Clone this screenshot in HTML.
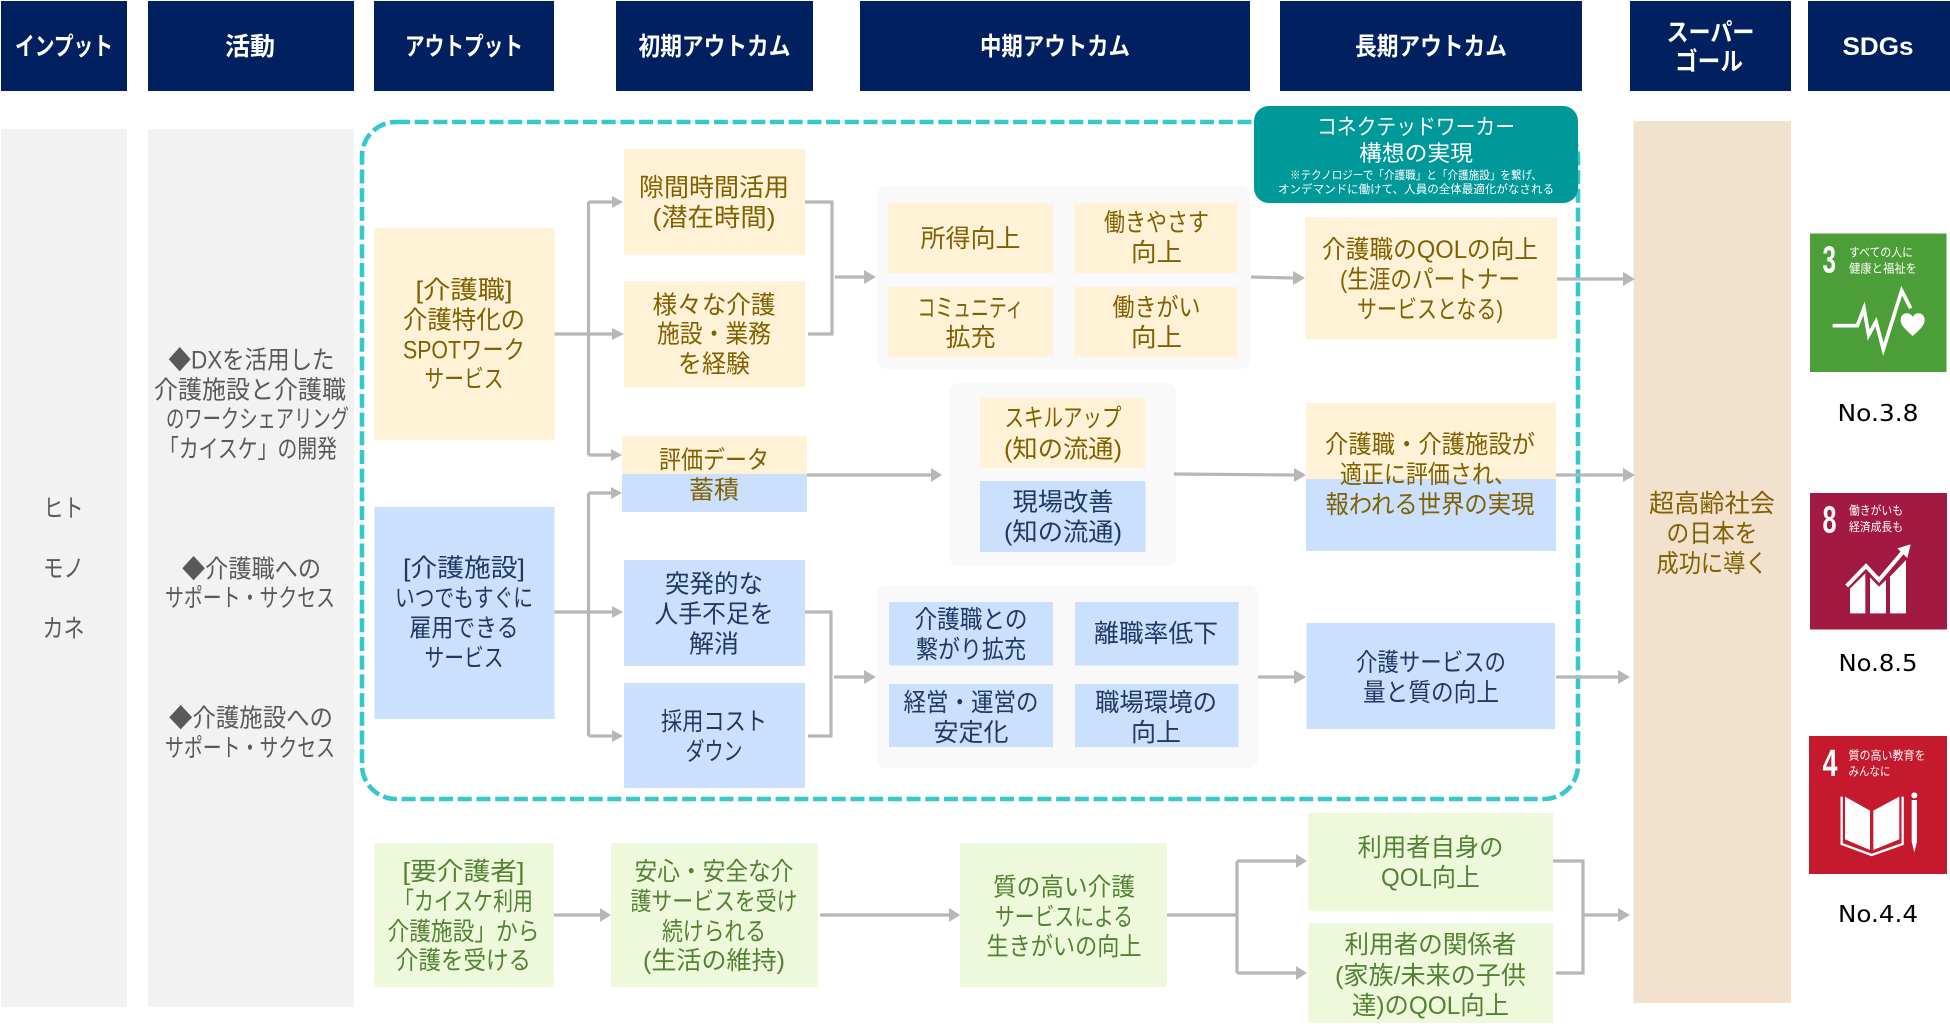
<!DOCTYPE html>
<html lang="ja">
<head>
<meta charset="utf-8">
<title>ロジックモデル</title>
<style>
html,body{margin:0;padding:0;background:#fff}
svg{display:block}
text{font-family:"Liberation Sans","Noto Sans CJK JP",sans-serif;text-anchor:middle;font-size:25px}
.h{fill:#fff;font-weight:700;font-size:25px}
.k{fill:#595959}
.y{fill:#806000;transform:translateY(-1px)}
.b{fill:#1f3864;transform:translateY(-1px)}
.g{fill:#548235;transform:translateY(-2px)}
.w{fill:#fff}
.s{fill:#fff;font-size:11.5px}
.n{fill:#000;font-family:"DejaVu Sans",sans-serif;font-size:23px}
.l{fill:#fff;font-weight:400;font-size:12px;text-anchor:start}
.num{fill:#fff;font-weight:700;font-size:38px;text-anchor:start}
.fy{fill:#fff2d6}
.fb{fill:#cbe0fd}
.fg{fill:#eef9dc}
.fh{fill:#002060}
.fc{fill:#f2f2f2}
.fp{fill:#f9f9f9}
.ln{fill:none;stroke:#b7b7b7;stroke-width:3.2}
.ah{fill:#b7b7b7}
</style>
</head>
<body>
<svg xmlns="http://www.w3.org/2000/svg" width="1950" height="1035" viewBox="0 0 1950 1035">
<rect width="1950" height="1035" fill="#fff"/>

<!-- headers -->
<rect class="fh" x="1" y="1" width="126" height="90"/>
<rect class="fh" x="148" y="1" width="206" height="90"/>
<rect class="fh" x="374" y="1" width="180" height="90"/>
<rect class="fh" x="616" y="1" width="197" height="90"/>
<rect class="fh" x="860" y="1" width="390" height="90"/>
<rect class="fh" x="1280" y="1" width="302" height="90"/>
<rect class="fh" x="1630" y="1" width="161" height="90"/>
<rect class="fh" x="1808" y="1" width="142" height="90"/>
<text class="h" x="64" y="55" textLength="98" lengthAdjust="spacingAndGlyphs">インプット</text>
<text class="h" x="250" y="55" textLength="50" lengthAdjust="spacingAndGlyphs">活動</text>
<text class="h" x="464" y="55" textLength="118" lengthAdjust="spacingAndGlyphs">アウトプット</text>
<text class="h" x="714.5" y="55" textLength="152" lengthAdjust="spacingAndGlyphs">初期アウトカム</text>
<text class="h" x="1055" y="55" textLength="150" lengthAdjust="spacingAndGlyphs">中期アウトカム</text>
<text class="h" x="1431" y="55" textLength="152" lengthAdjust="spacingAndGlyphs">長期アウトカム</text>
<text class="h" x="1710.5" y="41" textLength="88" lengthAdjust="spacingAndGlyphs">スーパー</text>
<text class="h" x="1709" y="70" textLength="68" lengthAdjust="spacingAndGlyphs">ゴール</text>
<text class="h" x="1878" y="55" textLength="71" lengthAdjust="spacingAndGlyphs">SDGs</text>

<!-- gray columns -->
<rect class="fc" x="1" y="129" width="126" height="878"/>
<rect class="fc" x="148" y="129" width="206" height="878"/>
<text class="k" x="63.5" y="517" textLength="40" lengthAdjust="spacingAndGlyphs">ヒト</text>
<text class="k" x="63.5" y="577" textLength="41" lengthAdjust="spacingAndGlyphs">モノ</text>
<text class="k" x="63.5" y="637" textLength="42" lengthAdjust="spacingAndGlyphs">カネ</text>
<text class="k" x="251.5" y="368.5" textLength="166" lengthAdjust="spacingAndGlyphs">◆DXを活用した</text>
<text class="k" x="250" y="398.5" textLength="192" lengthAdjust="spacingAndGlyphs">介護施設と介護職</text>
<text class="k" x="257.5" y="427.5" textLength="183" lengthAdjust="spacingAndGlyphs">のワークシェアリング</text>
<text class="k" x="248" y="457.5" textLength="178" lengthAdjust="spacingAndGlyphs">「カイスケ」の開発</text>
<text class="k" x="251.5" y="577.5" textLength="139" lengthAdjust="spacingAndGlyphs">◆介護職への</text>
<text class="k" x="250" y="606.5" textLength="170" lengthAdjust="spacingAndGlyphs">サポート・サクセス</text>
<text class="k" x="251" y="726.5" textLength="164" lengthAdjust="spacingAndGlyphs">◆介護施設への</text>
<text class="k" x="250" y="756.5" textLength="170" lengthAdjust="spacingAndGlyphs">サポート・サクセス</text>

<!-- goal column -->
<rect x="1633.5" y="121" width="157.5" height="882" fill="#f2e1cc"/>
<text class="y" x="1712" y="513" textLength="126" lengthAdjust="spacingAndGlyphs">超高齢社会</text>
<text class="y" x="1712" y="543" textLength="91" lengthAdjust="spacingAndGlyphs">の日本を</text>
<text class="y" x="1712" y="573" textLength="111" lengthAdjust="spacingAndGlyphs">成功に導く</text>

<!-- dashed frame -->
<rect x="362" y="122" width="1216" height="677" rx="34" ry="34" fill="none" stroke="#38c8c8" stroke-width="4.6" stroke-dasharray="14 4.7"/>

<!-- group panels -->
<rect class="fp" x="877" y="186" width="373" height="183" rx="9"/>
<rect class="fp" x="949.5" y="383" width="226.5" height="183" rx="9"/>
<rect class="fp" x="877" y="585" width="381" height="183" rx="9"/>

<!-- connectors -->
<path class="ln" d="M554 334H612M588.5 202V455M588.5 202H612M588.5 455H611"/>
<path class="ln" d="M554 612H612M588.5 493V736M588.5 493H611M588.5 736H612"/>
<path class="ln" d="M805 202H832V334H808"/>
<path class="ln" d="M835 277H865"/>
<path class="ln" d="M1251 277L1293 278"/>
<path class="ln" d="M1557 279H1624"/>
<path class="ln" d="M807 475H931"/>
<path class="ln" d="M1174 474L1294 475"/>
<path class="ln" d="M1556 475H1624"/>
<path class="ln" d="M805 612H831V736H808"/>
<path class="ln" d="M834 677H865"/>
<path class="ln" d="M1258 677H1294"/>
<path class="ln" d="M1556 677H1619"/>
<path class="ln" d="M554 915H600"/>
<path class="ln" d="M820 915H949"/>
<path class="ln" d="M1167 915H1237M1237 861V973M1237 861H1296M1237 973H1296"/>
<path class="ln" d="M1553 861H1583V973H1556"/>
<path class="ln" d="M1583 915H1619"/>
<g class="ah">
<polygon points="623,202 612,196 612,208"/>
<polygon points="624,334 612,328 612,340"/>
<polygon points="622,455 611,449 611,461"/>
<polygon points="622,493 611,487 611,499"/>
<polygon points="623,612 612,606 612,618"/>
<polygon points="623,736 612,730 612,742"/>
<polygon points="876,277 864,270 864,284"/>
<polygon points="1305,278 1293,271 1293,285"/>
<polygon points="942,475 931,468 931,482"/>
<polygon points="1306,475 1294,468 1294,482"/>
<polygon points="876,677 864,670 864,684"/>
<polygon points="1306,677 1294,670 1294,684"/>
<polygon points="1635,279 1623,272 1623,286"/>
<polygon points="1635,475 1623,468 1623,482"/>
<polygon points="1630,677 1618,670 1618,684"/>
<polygon points="1630,915 1618,908 1618,922"/>
<polygon points="611,915 600,908 600,922"/>
<polygon points="960,915 949,908 949,922"/>
<polygon points="1307,861 1296,854 1296,868"/>
<polygon points="1307,973 1296,966 1296,980"/>
</g>

<!-- output column -->
<rect class="fy" x="374.5" y="228" width="180" height="212"/>
<text class="y" x="464" y="299.5" textLength="97" lengthAdjust="spacingAndGlyphs">[介護職]</text>
<text class="y" x="464" y="329.5" textLength="122" lengthAdjust="spacingAndGlyphs">介護特化の</text>
<text class="y" x="464" y="359.5" textLength="122" lengthAdjust="spacingAndGlyphs">SPOTワーク</text>
<text class="y" x="464" y="388.5" textLength="79" lengthAdjust="spacingAndGlyphs">サービス</text>
<rect class="fb" x="374.5" y="507" width="180" height="212"/>
<text class="b" x="464" y="577.5" textLength="122" lengthAdjust="spacingAndGlyphs">[介護施設]</text>
<text class="b" x="464" y="607.5" textLength="138" lengthAdjust="spacingAndGlyphs">いつでもすぐに</text>
<text class="b" x="464" y="637.5" textLength="109" lengthAdjust="spacingAndGlyphs">雇用できる</text>
<text class="b" x="464" y="667.5" textLength="79" lengthAdjust="spacingAndGlyphs">サービス</text>

<!-- initial outcome -->
<rect class="fy" x="624" y="149" width="181" height="106"/>
<text class="y" x="714" y="197" textLength="150" lengthAdjust="spacingAndGlyphs">隙間時間活用</text>
<text class="y" x="714" y="227" textLength="123" lengthAdjust="spacingAndGlyphs">(潜在時間)</text>
<rect class="fy" x="624" y="281" width="181" height="106"/>
<text class="y" x="714" y="314.5" textLength="123" lengthAdjust="spacingAndGlyphs">様々な介護</text>
<text class="y" x="714" y="343.5" textLength="114" lengthAdjust="spacingAndGlyphs">施設・業務</text>
<text class="y" x="714" y="373.5" textLength="72" lengthAdjust="spacingAndGlyphs">を経験</text>
<rect class="fy" x="622" y="436" width="185" height="38"/>
<rect class="fb" x="622" y="474" width="185" height="38"/>
<text class="y" x="714" y="469.5" textLength="110" lengthAdjust="spacingAndGlyphs">評価データ</text>
<text class="y" x="714" y="499.5" textLength="50" lengthAdjust="spacingAndGlyphs">蓄積</text>
<rect class="fb" x="624" y="560" width="181" height="106"/>
<text class="b" x="714" y="593.5" textLength="98" lengthAdjust="spacingAndGlyphs">突発的な</text>
<text class="b" x="714" y="623.5" textLength="119" lengthAdjust="spacingAndGlyphs">人手不足を</text>
<text class="b" x="714" y="653.5" textLength="50" lengthAdjust="spacingAndGlyphs">解消</text>
<rect class="fb" x="624" y="683" width="181" height="105"/>
<text class="b" x="714" y="731" textLength="106" lengthAdjust="spacingAndGlyphs">採用コスト</text>
<text class="b" x="714" y="761" textLength="57" lengthAdjust="spacingAndGlyphs">ダウン</text>

<!-- mid outcome 1 -->
<rect class="fy" x="888" y="203" width="165.5" height="70"/>
<rect class="fy" x="1074" y="203" width="164" height="70"/>
<rect class="fy" x="888" y="287" width="165.5" height="70"/>
<rect class="fy" x="1074" y="287" width="164" height="70"/>
<text class="y" x="970.5" y="248" textLength="100" lengthAdjust="spacingAndGlyphs">所得向上</text>
<text class="y" x="1156.5" y="232" textLength="105" lengthAdjust="spacingAndGlyphs">働きやさす</text>
<text class="y" x="1156.5" y="262" textLength="51" lengthAdjust="spacingAndGlyphs">向上</text>
<text class="y" x="970.5" y="317.5" textLength="106" lengthAdjust="spacingAndGlyphs">コミュニティ</text>
<text class="y" x="970.5" y="347" textLength="50" lengthAdjust="spacingAndGlyphs">拡充</text>
<text class="y" x="1156.5" y="317" textLength="88" lengthAdjust="spacingAndGlyphs">働きがい</text>
<text class="y" x="1156.5" y="347" textLength="51" lengthAdjust="spacingAndGlyphs">向上</text>

<!-- mid outcome 2 -->
<rect class="fy" x="980" y="398" width="165.5" height="70"/>
<rect class="fb" x="980" y="481" width="165.5" height="71"/>
<text class="y" x="1063" y="427.5" textLength="117" lengthAdjust="spacingAndGlyphs">スキルアップ</text>
<text class="y" x="1063" y="458.5" textLength="118" lengthAdjust="spacingAndGlyphs">(知の流通)</text>
<text class="b" x="1063" y="511.5" textLength="101" lengthAdjust="spacingAndGlyphs">現場改善</text>
<text class="b" x="1063" y="541.5" textLength="118" lengthAdjust="spacingAndGlyphs">(知の流通)</text>

<!-- mid outcome 3 -->
<rect class="fb" x="889" y="602" width="164" height="63.5"/>
<rect class="fb" x="1075" y="602" width="163.5" height="63.5"/>
<rect class="fb" x="889" y="684" width="164" height="63"/>
<rect class="fb" x="1075" y="684" width="163.5" height="63"/>
<text class="b" x="971" y="629" textLength="113" lengthAdjust="spacingAndGlyphs">介護職との</text>
<text class="b" x="971" y="659" textLength="110" lengthAdjust="spacingAndGlyphs">繋がり拡充</text>
<text class="b" x="1156" y="643" textLength="124" lengthAdjust="spacingAndGlyphs">離職率低下</text>
<text class="b" x="971" y="712" textLength="135" lengthAdjust="spacingAndGlyphs">経営・運営の</text>
<text class="b" x="971" y="742" textLength="75" lengthAdjust="spacingAndGlyphs">安定化</text>
<text class="b" x="1156" y="712" textLength="122" lengthAdjust="spacingAndGlyphs">職場環境の</text>
<text class="b" x="1156" y="742" textLength="50" lengthAdjust="spacingAndGlyphs">向上</text>

<!-- long outcome -->
<rect class="fy" x="1305" y="217" width="252" height="122"/>
<text class="y" x="1430" y="259" textLength="216" lengthAdjust="spacingAndGlyphs">介護職のQOLの向上</text>
<text class="y" x="1430" y="289" textLength="180" lengthAdjust="spacingAndGlyphs">(生涯のパートナー</text>
<text class="y" x="1430" y="319" textLength="146" lengthAdjust="spacingAndGlyphs">サービスとなる)</text>
<rect class="fy" x="1306" y="403" width="250" height="76"/>
<rect class="fb" x="1306" y="479" width="250" height="72"/>
<text class="y" x="1430" y="454" textLength="210" lengthAdjust="spacingAndGlyphs">介護職・介護施設が</text>
<text class="y" x="1428" y="484" textLength="176" lengthAdjust="spacingAndGlyphs">適正に評価され、</text>
<text class="y" x="1430" y="514" textLength="209" lengthAdjust="spacingAndGlyphs">報われる世界の実現</text>
<rect class="fb" x="1306.5" y="623" width="248.5" height="106"/>
<text class="b" x="1431" y="672" textLength="150" lengthAdjust="spacingAndGlyphs">介護サービスの</text>
<text class="b" x="1431" y="702" textLength="136" lengthAdjust="spacingAndGlyphs">量と質の向上</text>

<!-- teal callout -->
<rect x="1254" y="106" width="324" height="97" rx="15" ry="15" fill="#009999"/>
<text class="w" style="font-size:22px" x="1416" y="134.5" textLength="198" lengthAdjust="spacingAndGlyphs">コネクテッドワーカー</text>
<text class="w" style="font-size:22px" x="1416" y="161" textLength="114" lengthAdjust="spacingAndGlyphs">構想の実現</text>
<text class="s" x="1416" y="179" textLength="252" lengthAdjust="spacingAndGlyphs">※テクノロジーで「介護職」と「介護施設」を繋げ、</text>
<text class="s" x="1416" y="193" textLength="276" lengthAdjust="spacingAndGlyphs">オンデマンドに働けて、人員の全体最適化がなされる</text>

<!-- bottom row -->
<rect class="fg" x="374" y="843" width="180" height="144"/>
<text class="g" x="463.5" y="882" textLength="122" lengthAdjust="spacingAndGlyphs">[要介護者]</text>
<text class="g" x="463.5" y="912" textLength="139" lengthAdjust="spacingAndGlyphs">「カイスケ利用</text>
<text class="g" x="463.5" y="942" textLength="152" lengthAdjust="spacingAndGlyphs">介護施設」から</text>
<text class="g" x="463.5" y="971" textLength="135" lengthAdjust="spacingAndGlyphs">介護を受ける</text>
<rect class="fg" x="611" y="843" width="207" height="144"/>
<text class="g" x="714" y="882" textLength="159" lengthAdjust="spacingAndGlyphs">安心・安全な介</text>
<text class="g" x="714" y="912" textLength="167" lengthAdjust="spacingAndGlyphs">護サービスを受け</text>
<text class="g" x="714" y="942" textLength="104" lengthAdjust="spacingAndGlyphs">続けられる</text>
<text class="g" x="714" y="971" textLength="142" lengthAdjust="spacingAndGlyphs">(生活の維持)</text>
<rect class="fg" x="960" y="843" width="207" height="144"/>
<text class="g" x="1064" y="897.5" textLength="142" lengthAdjust="spacingAndGlyphs">質の高い介護</text>
<text class="g" x="1064" y="927.5" textLength="138" lengthAdjust="spacingAndGlyphs">サービスによる</text>
<text class="g" x="1064" y="957" textLength="155" lengthAdjust="spacingAndGlyphs">生きがいの向上</text>
<rect class="fg" x="1308.5" y="813" width="244.5" height="98"/>
<text class="g" x="1430.5" y="858" textLength="146" lengthAdjust="spacingAndGlyphs">利用者自身の</text>
<text class="g" x="1430.5" y="888" textLength="99" lengthAdjust="spacingAndGlyphs">QOL向上</text>
<rect class="fg" x="1308.5" y="923" width="244.5" height="100"/>
<text class="g" x="1430.5" y="955" textLength="172" lengthAdjust="spacingAndGlyphs">利用者の関係者</text>
<text class="g" x="1430.5" y="986" textLength="191" lengthAdjust="spacingAndGlyphs">(家族/未来の子供</text>
<text class="g" x="1430.5" y="1016" textLength="157" lengthAdjust="spacingAndGlyphs">達)のQOL向上</text>

<!-- SDG 3 -->
<rect x="1810" y="233.5" width="136.5" height="138.5" fill="#4c9f38"/>
<text class="num" x="1822.5" y="272.5" textLength="13.5" lengthAdjust="spacingAndGlyphs">3</text>
<text class="l" x="1849" y="256.5" textLength="64" lengthAdjust="spacingAndGlyphs">すべての人に</text>
<text class="l" x="1849" y="272.5" textLength="68" lengthAdjust="spacingAndGlyphs">健康と福祉を</text>
<g transform="translate(1780,220) scale(.33333)">
<polyline points="158,317 232,317 252,265 266,345 288,305 310,388 365,212 392,265" fill="none" stroke="#fff" stroke-width="11"/>
<path d="M398,348 C375,328 362,315 362,300 C362,285 374,278 384,280 C391,281 396,286 398,291 C400,286 405,281 412,280 C422,278 434,285 434,300 C434,315 421,328 398,348Z" fill="#fff"/>
</g>
<text class="n" x="1878" y="421" textLength="81" lengthAdjust="spacingAndGlyphs">No.3.8</text>

<!-- SDG 8 -->
<rect x="1810" y="493" width="137" height="136.5" fill="#a21942"/>
<text class="num" x="1822.5" y="532.5" textLength="14" lengthAdjust="spacingAndGlyphs">8</text>
<text class="l" x="1849" y="514.5" textLength="54" lengthAdjust="spacingAndGlyphs">働きがいも</text>
<text class="l" x="1849" y="531" textLength="54" lengthAdjust="spacingAndGlyphs">経済成長も</text>
<g transform="translate(1780,480) scale(.33333)" fill="#fff">
<polygon points="210,400 256,400 256,280 210,326"/>
<polygon points="270,400 318,400 318,300 297,320 270,292"/>
<polygon points="330,400 378,400 378,240 330,290"/>
<polyline points="200,318 258,258 297,300 372,212" fill="none" stroke="#a21942" stroke-width="24"/>
<polyline points="200,318 258,258 297,300 372,212" fill="none" stroke="#fff" stroke-width="12"/>
<polygon points="392,193 352,205 382,234"/>
</g>
<text class="n" x="1878" y="671" textLength="79" lengthAdjust="spacingAndGlyphs">No.8.5</text>

<!-- SDG 4 -->
<rect x="1809" y="736" width="138" height="138" fill="#c5192d"/>
<text class="num" x="1822.5" y="776" textLength="15" lengthAdjust="spacingAndGlyphs">4</text>
<text class="l" x="1848.5" y="759.5" textLength="77" lengthAdjust="spacingAndGlyphs">質の高い教育を</text>
<text class="l" x="1848.5" y="775.5" textLength="42" lengthAdjust="spacingAndGlyphs">みんなに</text>
<g transform="translate(1780,480) scale(.33333)" fill="#fff">
<polygon points="195,950 270,992 270,1110 195,1078"/>
<polygon points="280,992 358,950 358,1078 280,1110"/>
<polyline points="185,950 185,1092 275,1125 368,1092 368,950" fill="none" stroke="#fff" stroke-width="7"/>
<circle cx="403" cy="946" r="9"/>
<polygon points="395,960 411,960 411,1085 403,1118 395,1085"/>
</g>
<text class="n" x="1878" y="922" textLength="80" lengthAdjust="spacingAndGlyphs">No.4.4</text>
</svg>
</body>
</html>
